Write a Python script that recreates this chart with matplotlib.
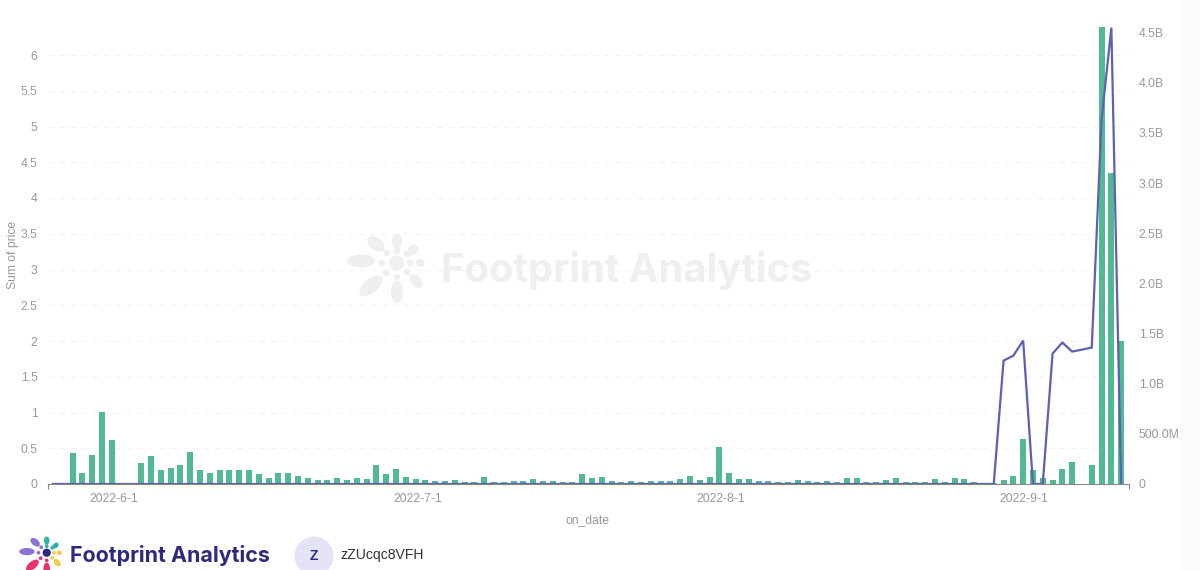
import matplotlib
matplotlib.use("Agg")
import matplotlib.pyplot as plt
from matplotlib.patches import Ellipse, Circle, Rectangle

# left axis, bars
price = [0, 0, .43, .16, .40, 1.01, .61, 0, 0,
         .29, .39, .20, .22, .27, .45, .19, .15, .20, .20, .19, .20, .14, .09, .15, .15,
         .11, .08, .05, .06, .08, .06, .08, .07, .27,
         .14, .21, .10, .07, .05, .04, .04, .05, .03, .03, .10, .03, .03, .04, .04, .07,
         .04, .04, .03, .03, .14, .09, .10, .04, .03,
         .04, .03, .04, .04, .04, .07, .11, .055, .10, .52, .155, .07, .07, .04, .04, .03,
         .03, .05, .04, .03, .04, .03, .08, .09,
         .03, .03, .05, .08, .03, .03, .03, .065, .03, .08, .065, .03, .02, .02, .055, .11,
         .63, .195, .09, .05, .21, .31, 0, .27, 6.6, 4.35, 2.0]

# right axis, line (billions)
volume = [0, 0, 0, 0, 0, 0, 0, 0, 0, 0,
          0, 0, 0, 0, 0, 0, 0, 0, 0, 0,
          0, 0, 0, 0, 0, 0, 0, 0, 0, 0,
          0, 0, 0, 0, 0, 0, 0, 0, 0, 0,
          0, 0, 0, 0, 0, 0, 0, 0, 0, 0,
          0, 0, 0, 0, 0, 0, 0, 0, 0, 0,
          0, 0, 0, 0, 0, 0, 0, 0, 0, 0,
          0, 0, 0, 0, 0, 0, 0, 0, 0, 0,
          0, 0, 0, 0, 0, 0, 0, 0, 0, 0,
          0, 0, 0, 0, 0, 0, 0,
          1.23, 1.28, 1.43, 0, 0, 1.30, 1.41, 1.32, 1.34, 1.36, 3.63, 4.55, 0]

date_ticks = [6.25, 37.2, 68.1, 99.1]
date_labels = ["2022-6-1", "2022-7-1", "2022-8-1", "2022-9-1"]
left_ticks = [0, .5, 1, 1.5, 2, 2.5, 3, 3.5, 4, 4.5, 5, 5.5, 6]
left_labels = ["0", "0.5", "1", "1.5", "2", "2.5", "3", "3.5", "4", "4.5", "5", "5.5", "6"]
right_ticks = [0, .5, 1, 1.5, 2, 2.5, 3, 3.5, 4, 4.5]
right_labels = ["0", "500.0M", "1.0B", "1.5B", "2.0B", "2.5B", "3.0B", "3.5B", "4.0B", "4.5B"]

GREEN = "#52b995"
PURPLE = "#5e60b4"
GRAY = "#999999"
NAVY = "#2d2a7e"

plt.rcParams["font.family"] = ["Liberation Sans", "DejaVu Sans"]
W, H = 1200, 570
fig = plt.figure(figsize=(12, 5.7), dpi=100, facecolor="white")

# overlay in pixel coords for watermark and footer
bg = fig.add_axes([0, 0, 1, 1], zorder=0)
bg.set_xlim(0, W)
bg.set_ylim(H, 0)
bg.axis("off")
bg.add_patch(Rectangle((1180, 0), 20, H, color="#fafbfd", lw=0))


def logo(cx, cy, k, cols, hub):
    pink, purple, teal, yellow = cols
    petals = [(-36, -2, 28, 13, 0, purple), (-21, -19, 20, 12, 40, purple),
              (0, -22, 15, 10, 90, teal), (16, -13, 13, 9, -40, teal),
              (23, 0, 9, 8, 0, yellow), (19, 18, 16, 10, 50, yellow),
              (0, 29, 22, 12, 90, pink), (-26, 23, 28, 14, -40, pink)]
    for dx, dy, a, b, ang, c in petals:
        bg.add_patch(Ellipse((cx + dx * k, cy + dy * k), a * k, b * k, angle=ang, color=c, lw=0))
    dots = [(-10, -10, purple), (0, -12, teal), (10, -9, teal), (-15, 0, purple),
            (13, 0, yellow), (-11, 10, pink), (0, 14, pink), (10, 9, yellow)]
    for dx, dy, c in dots:
        bg.add_patch(Circle((cx + dx * k, cy + dy * k), 3.4 * k, color=c, lw=0))
    bg.add_patch(Circle((cx, cy), 7.5 * k, color=hub, lw=0))


WM = "#efefef"
logo(397, 263, 1, (WM, WM, WM, WM), WM)
bg.text(441, 271, "Footprint Analytics", fontsize=28.7, fontweight="bold", color=WM,
        family="Inter", ha="left", va="center")

logo(46.7, 552.7, 0.55, ("#e8336d", "#8a72d8", "#2bb5a8", "#f5c94e"), NAVY)
bg.text(70, 556, "Footprint Analytics", fontsize=15.4, fontweight="bold", color=NAVY,
        family="Inter", ha="left", va="center")
bg.add_patch(Circle((314, 556), 19.5, color="#e4e4f6", lw=0))
bg.text(314, 556, "Z", fontsize=10, fontweight="bold", color=NAVY, ha="center", va="center")
bg.text(340, 555, "zZUcqc8VFH", fontsize=10.1, color="#333333", ha="left", va="center")

# chart
ax = fig.add_axes([48 / W, (H - 484) / H, (1129 - 48) / W, (484 - 27) / H], zorder=1)
ax.patch.set_alpha(0)
x = list(range(len(price)))
ax.bar(x, price, width=0.62, color=GREEN, zorder=2)
ax.set_xlim(-0.51, 109.8)
ax.set_ylim(0, 457 / 71.5)
ax.set_yticks(left_ticks)
ax.set_yticklabels(left_labels)
ax.set_xticks(date_ticks)
ax.set_xticklabels(date_labels)
ax.set_xticks(ax.get_xlim(), minor=True)
ax.tick_params(axis="x", which="major", length=0, pad=6.5, labelsize=8.7, labelcolor=GRAY)
ax.tick_params(axis="x", which="minor", length=3.5, width=0.8, color="#888888")
ax.tick_params(axis="y", length=0, pad=7.5, labelsize=8.7, labelcolor=GRAY)
ax.grid(axis="y", color="#f3f3f3", ls=(0, (5, 5)), lw=0.8, zorder=0)
ax.set_axisbelow(True)
for s in ["top", "left", "right"]:
    ax.spines[s].set_visible(False)
ax.spines["bottom"].set_color("#888888")
ax.spines["bottom"].set_linewidth(0.8)
bg.text(13, 255, "Sum of price", fontsize=8.7, color=GRAY, rotation=90, ha="center", va="center")
bg.text(588, 520, "on_date", fontsize=8.7, color=GRAY, ha="center", va="center")

ax2 = ax.twinx()
ax2.patch.set_alpha(0)
ax2.plot(x, volume, color=PURPLE, lw=1.6, zorder=3, solid_joinstyle="miter")
ax2.set_ylim(0, 457 / 100.3)
ax2.set_yticks(right_ticks)
ax2.set_yticklabels(right_labels)
ax2.tick_params(axis="y", length=0, pad=7, labelsize=8.7, labelcolor=GRAY)
for s in ax2.spines.values():
    s.set_visible(False)

fig.savefig("out.png", dpi=100)
